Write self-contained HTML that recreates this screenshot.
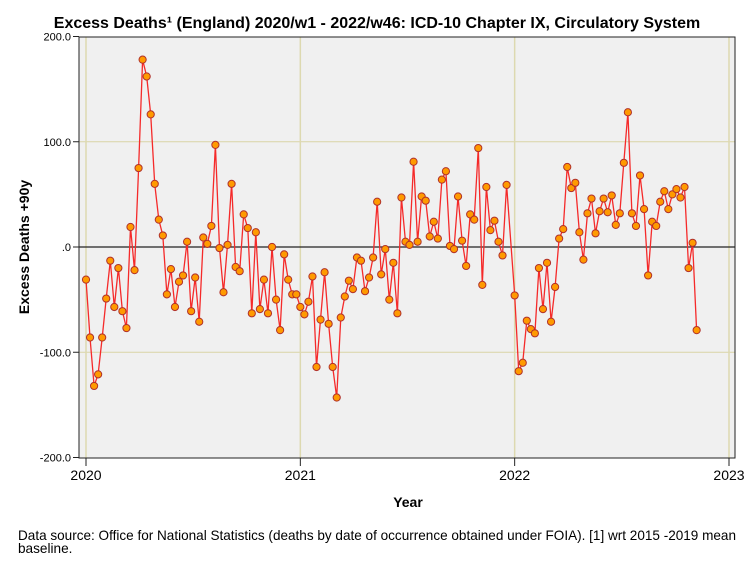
<!DOCTYPE html>
<html><head><meta charset="utf-8">
<style>
html,body{margin:0;padding:0;background:#fff;}
body{width:754px;height:564px;overflow:hidden;font-family:"Liberation Sans",sans-serif;}
</style></head>
<body>
<svg id="chart" width="754" height="564" xmlns="http://www.w3.org/2000/svg" font-family="Liberation Sans, sans-serif">
<text x="377" y="28" text-anchor="middle" font-size="16" font-weight="bold">Excess Deaths¹ (England) 2020/w1 - 2022/w46: ICD-10 Chapter IX, Circulatory System</text>
<rect x="79" y="37" width="656" height="421" fill="#f0f0f0"/>
<g id="grid"></g>
<g id="series"></g>
<rect x="79" y="37" width="656" height="421" fill="none" stroke="#222" stroke-width="1"/>
<g id="axes"></g>
<text transform="translate(29,247) rotate(-90)" text-anchor="middle" font-size="14" font-weight="bold">Excess Deaths +90y</text>
<text x="408" y="507" text-anchor="middle" font-size="14" font-weight="bold">Year</text>
<text x="18" y="540" font-size="13.6" textLength="718" lengthAdjust="spacingAndGlyphs">Data source: Office for National Statistics (deaths by date of occurrence obtained under FOIA). [1] wrt 2015 -2019 mean</text>
<text x="18" y="553" font-size="13.6">baseline.</text>
</svg>
<script>
const years = [2020, 2021, 2022];
const weeksInYear = [53, 52, 46];
const values2020 = [-31,-86,-132,-121,-86,-49,-13,-57,-20,-61,-77,19,-22,75,178,162,126,60,26,11,-45,-21,-57,-33,-27,5,-61,-29,-71,9,3,20,97,-1,-43,2,60,-19,-23,31,18,-63,14,-59,-31,-63,0,-50,-79,-7,-31,-45,-45];
const values2021 = [-57,-64,-52,-28,-114,-69,-24,-73,-114,-143,-67,-47,-32,-40,-10,-13,-42,-29,-10,43,-26,-2,-50,-15,-63,47,5,2,81,5,48,44,10,24,8,64,72,1,-2,48,6,-18,31,26,94,-36,57,16,25,5,-8,59];
const values2022 = [-46,-118,-110,-70,-78,-82,-20,-59,-15,-71,-38,8,17,76,56,61,14,-12,32,46,13,34,46,33,49,21,32,80,128,32,20,68,36,-27,24,20,43,53,36,50,55,47,57,-20,4,-79];
const yTicks = [200, 100, 0, -100, -200];
const yTickLabels = ["200.0", "100.0", ".0", "-100.0", "-200.0"];
const xTicks = [2020, 2021, 2022, 2023];
const xTickLabels = ["2020", "2021", "2022", "2023"];

const NS = "http://www.w3.org/2000/svg";
function xScale(t){ return 86 + (t - 2020) * 214.33; }
function yScale(v){ return 247 - v * 1.0525; }
function mk(tag, attrs, parent){ const e = document.createElementNS(NS, tag); for (const k in attrs) e.setAttribute(k, attrs[k]); parent.appendChild(e); return e; }

const grid = document.getElementById('grid');
const axes = document.getElementById('axes');
const series = document.getElementById('series');

yTicks.forEach((v, i) => {
  const y = yScale(v);
  if (v === 100 || v === -100) {
    const g = mk('line', {x1:79, x2:735, y1:y, y2:y, stroke:'#d9d4a6', 'stroke-width':1}, grid);
    
    
  }
  const t = mk('line', {x1:73, x2:79, y1:y, y2:y, stroke:'#222'}, axes);
  
  
  const l = mk('text', {x:71, y:y+4, 'text-anchor':'end', 'font-size':11}, axes);
  l.textContent = yTickLabels[i];
  
  
});
xTicks.forEach((yr, i) => {
  const x = xScale(yr);
  const g = mk('line', {x1:x, x2:x, y1:37, y2:458, stroke:'#ddd9b0', 'stroke-width':1.5}, grid);
  
  
  const t = mk('line', {x1:x, x2:x, y1:458, y2:466, stroke:'#222'}, axes);
  
  
  const l = mk('text', {x:x, y:480, 'text-anchor':'middle', 'font-size':14}, axes);
  l.textContent = xTickLabels[i];
  
  
});
const zero = mk('line', {x1:79, x2:735, y1:yScale(0), y2:yScale(0), stroke:'#222', 'stroke-width':1.2}, grid);



const allValues = [values2020, values2021, values2022];
const pts = [];
allValues.forEach((arr, yi) => {
  arr.forEach((v, w) => pts.push([xScale(years[yi] + w / 53), yScale(v)]));
});
const line = mk('polyline', {points: pts.map(p => p[0].toFixed(1) + ',' + p[1].toFixed(1)).join(' '), fill:'none', stroke:'#f52a2a', 'stroke-width':1.3}, series);


pts.forEach(p => {
  const c = mk('circle', {cx:p[0], cy:p[1], r:3.6, fill:'#ff9a00', stroke:'#b0302a', 'stroke-width':1}, series);
  
  
});
</script>
</body></html>
